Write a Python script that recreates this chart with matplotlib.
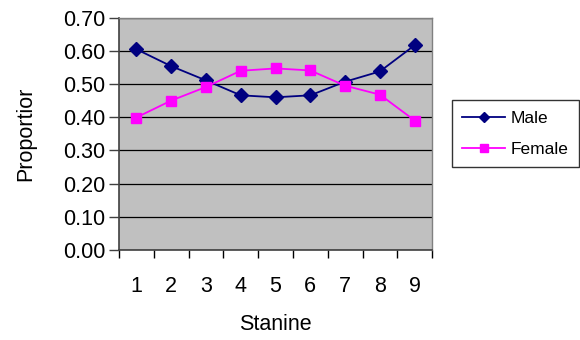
import matplotlib
matplotlib.use("Agg")
import matplotlib.pyplot as plt
import numpy as np

plt.rcParams["font.family"] = ["Liberation Sans", "DejaVu Sans"]

stanine = [1, 2, 3, 4, 5, 6, 7, 8, 9]
male = [0.605, 0.554, 0.511, 0.466, 0.460, 0.466, 0.507, 0.538, 0.617]
female = [0.399, 0.450, 0.491, 0.540, 0.547, 0.541, 0.495, 0.468, 0.390]
y_ticks = [0.0, 0.1, 0.2, 0.3, 0.4, 0.5, 0.6, 0.7]

fig = plt.figure(figsize=(5.8, 3.4), dpi=100)
ax = fig.add_axes([0.205, 0.265, 0.54, 0.683])
ax.set_facecolor("#C0C0C0")

ax.plot(stanine, male, color="#000080", marker="D", markersize=7,
        linewidth=1.3, label="Male")
ax.plot(stanine, female, color="#FF00FF", marker="s", markersize=7.5,
        linewidth=1.3, label="Female")

ax.set_xlim(0.5, 9.5)
ax.set_ylim(0, 0.7)
ax.set_yticks(y_ticks)
ax.set_yticklabels([f"{v:.2f}" for v in y_ticks])
ax.set_xticks(stanine)
ax.set_xticks(np.arange(0.5, 10, 1), minor=True)
ax.tick_params(axis="x", which="major", length=0, pad=19, labelsize=15.5)
ax.tick_params(axis="x", which="minor", length=6, width=1, color="black")
ax.tick_params(axis="y", length=7, width=1, color="#404040", labelsize=15.5, pad=3)
ax.yaxis.grid(True, color="black", linewidth=0.9)
ax.set_axisbelow(True)

for side in ["top", "right"]:
    ax.spines[side].set_color("#808080")
    ax.spines[side].set_linewidth(1.0)
for side in ["left", "bottom"]:
    ax.spines[side].set_color("#404040")
    ax.spines[side].set_linewidth(1.2)

ax.set_xlabel("Stanine", fontsize=15.5, labelpad=12)
ax.set_ylabel("Proportior", fontsize=15.5, labelpad=19)

leg = ax.legend(loc="center left", bbox_to_anchor=(1.062, 0.5), fontsize=12.5,
                frameon=True, fancybox=False, edgecolor="black",
                handlelength=2.5, markerscale=0.7, borderpad=0.6,
                handletextpad=0.3, labelspacing=0.9, borderaxespad=0)
leg.get_frame().set_linewidth(1.0)

fig.savefig("out.png", dpi=100)
